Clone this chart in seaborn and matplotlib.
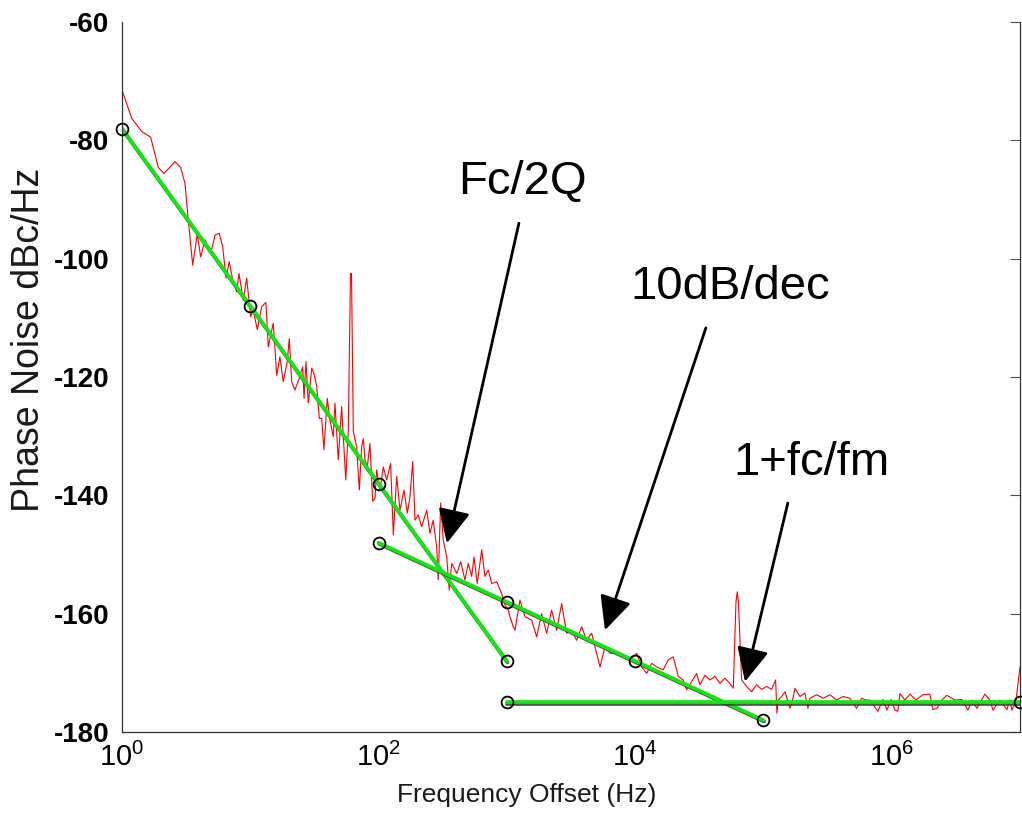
import numpy as np
import pandas as pd
import matplotlib
matplotlib.use("Agg")
import matplotlib.pyplot as plt
import matplotlib.patheffects as pe
from matplotlib.ticker import LogLocator, NullFormatter
import seaborn as sns

# Measured phase noise trace (log10 of offset frequency, dBc/Hz)
trace_log_f = [
    0.000, 0.076, 0.154, 0.224, 0.283, 0.327, 0.413, 0.458, 0.491, 0.517,
    0.551, 0.587, 0.613, 0.647, 0.670, 0.699, 0.725, 0.758, 0.785, 0.811,
    0.836, 0.863, 0.894, 0.912, 0.945, 0.972, 1.003, 1.023, 1.055, 1.089,
    1.122, 1.140, 1.179, 1.206, 1.231, 1.257, 1.288, 1.304, 1.323, 1.348,
    1.382, 1.408, 1.419, 1.434, 1.452, 1.479, 1.496, 1.518, 1.538, 1.557,
    1.574, 1.600, 1.621, 1.647, 1.660, 1.686, 1.712, 1.744, 1.764, 1.781,
    1.789, 1.803, 1.829, 1.850, 1.868, 1.881, 1.894, 1.912, 1.933, 1.954,
    1.972, 1.985, 2.011, 2.037, 2.063, 2.094, 2.115, 2.141, 2.167, 2.198,
    2.224, 2.245, 2.266, 2.284, 2.309, 2.336, 2.375, 2.401, 2.426, 2.453,
    2.465, 2.484, 2.504, 2.531, 2.551, 2.570, 2.609, 2.640, 2.673, 2.699,
    2.726, 2.744, 2.769, 2.804, 2.829, 2.855, 2.882, 2.921, 2.959, 2.985,
    3.011, 3.024, 3.050, 3.063, 3.102, 3.141, 3.193, 3.232, 3.271, 3.310,
    3.349, 3.388, 3.427, 3.466, 3.505, 3.544, 3.583, 3.622, 3.661, 3.700,
    3.726, 3.765, 3.804, 3.856, 3.907, 3.959, 4.012, 4.051, 4.090, 4.129,
    4.168, 4.219, 4.258, 4.297, 4.336, 4.375, 4.401, 4.440, 4.479, 4.505,
    4.544, 4.583, 4.622, 4.661, 4.700, 4.739, 4.765, 4.786, 4.796, 4.805,
    4.811, 4.830, 4.869, 4.908, 4.947, 4.986, 5.025, 5.064, 5.095, 5.105,
    5.115, 5.142, 5.168, 5.207, 5.230, 5.246, 5.285, 5.323, 5.347, 5.362,
    5.415, 5.466, 5.518, 5.570, 5.622, 5.674, 5.726, 5.765, 5.799, 5.830,
    5.892, 5.931, 5.963, 5.994, 6.025, 6.048, 6.064, 6.103, 6.142, 6.189,
    6.243, 6.298, 6.321, 6.352, 6.391, 6.430, 6.493, 6.547, 6.594, 6.625,
    6.664, 6.726, 6.765, 6.789, 6.843, 6.898, 6.921, 6.937, 6.968, 7.000,
]
trace_db = [
    -71.5, -76.3, -78.5, -79.5, -84.6, -85.6, -83.6, -84.6, -87.3, -93.5,
    -101.1, -95.8, -99.7, -96.8, -98.0, -98.5, -96.0, -95.7, -98.0, -103.3,
    -100.5, -103.6, -105.6, -102.5, -107.0, -103.3, -109.8, -108.7, -112.0, -108.1,
    -107.4, -114.9, -110.9, -119.7, -116.6, -120.8, -117.4, -113.5, -120.8, -122.2,
    -120.2, -118.3, -123.6, -117.4, -124.4, -118.5, -119.4, -121.6, -127.0, -127.0,
    -132.3, -123.6, -127.3, -130.1, -124.4, -134.0, -125.0, -137.4, -129.0, -102.5,
    -102.5, -129.2, -131.8, -139.1, -131.8, -130.4, -134.0, -135.2, -131.2, -141.0,
    -140.5, -135.7, -139.1, -135.2, -137.4, -134.6, -146.7, -136.8, -142.5, -139.1,
    -143.0, -140.2, -134.3, -144.2, -143.3, -145.3, -142.5, -146.4, -144.2, -148.7,
    -154.3, -141.3, -147.5, -150.4, -156.0, -151.5, -153.2, -151.2, -154.3, -151.5,
    -153.7, -150.4, -154.9, -149.2, -153.7, -152.6, -154.9, -154.6, -156.6, -158.5,
    -159.4, -160.5, -162.2, -162.8, -157.7, -160.5, -161.1, -163.9, -160.0, -163.3,
    -159.4, -162.8, -158.3, -163.3, -162.8, -164.5, -162.2, -164.5, -163.3, -166.7,
    -169.0, -165.6, -166.7, -166.7, -167.3, -167.8, -166.7, -169.0, -170.1, -168.4,
    -169.0, -169.5, -167.8, -167.3, -170.6, -171.2, -172.9, -171.5, -170.1, -172.0,
    -170.4, -171.2, -170.6, -171.8, -170.9, -171.8, -172.6, -158.0, -156.3, -158.0,
    -161.1, -171.2, -172.3, -173.2, -172.0, -172.8, -172.3, -172.8, -171.2, -176.8,
    -174.6, -174.0, -173.2, -176.0, -174.3, -172.6, -174.0, -173.4, -176.0, -174.3,
    -173.7, -174.3, -173.7, -174.6, -174.0, -174.3, -176.0, -174.3, -174.6, -174.6,
    -176.5, -174.5, -176.3, -174.5, -176.3, -176.5, -173.5, -174.6, -173.6, -174.6,
    -173.7, -173.6, -176.2, -176.0, -174.6, -173.8, -174.6, -174.5, -176.3, -174.6,
    -176.0, -173.6, -174.6, -176.3, -174.6, -176.2, -174.6, -176.3, -174.8, -169.0,
]

# Asymptote segments (Leeson model pieces)
slope30_f = [1, 10, 100, 1000]
slope30_db = [-78, -108, -138, -168]
slope10_f = [100, 1000, 1e4, 1e5]
slope10_db = [-148, -158, -168, -178]
floor_f = [1000, 1e7]
floor_db = [-175, -175]

# Annotation labels: (text, text pos, arrow tail, arrow tip)
notes = [
    ("Fc/2Q", (1334, -87.0), (1242, -94.0), (341, -148.1)),
    ("10dB/dec", (5.48e4, -104.8), (3.56e4, -111.7), (5820, -162.8)),
    ("1+fc/fm", (2.39e5, -134.5), (1.55e5, -141.3), (7.18e4, -171.5)),
]

sns.set_theme(style="white")
plt.rcParams["font.family"] = ["Liberation Sans", "DejaVu Sans"]
plt.rcParams["mathtext.fontset"] = "custom"
plt.rcParams["mathtext.rm"] = "Liberation Sans"
plt.rcParams["mathtext.it"] = "Liberation Sans"
plt.rcParams["axes.unicode_minus"] = False

trace = pd.DataFrame({"freq": 10 ** np.array(trace_log_f), "db": trace_db})

fig = plt.figure(figsize=(10.22, 8.25), dpi=100)
ax = fig.add_axes([122 / 1022, 93 / 825, 898 / 1022, 710 / 825])

sns.lineplot(data=trace, x="freq", y="db", color="red", lw=0.8,
             estimator=None, sort=False, ax=ax)

green = "#14e614"
shadow = [pe.SimpleLineShadow(offset=(0.4, -0.9), shadow_color="0.25", alpha=0.9), pe.Normal()]
for fx, fy in [(slope30_f, slope30_db), (slope10_f, slope10_db), (floor_f, floor_db)]:
    sns.lineplot(x=fx, y=fy, color=green, lw=2.7, estimator=None, sort=False,
                 ax=ax, path_effects=shadow)
    ax.plot(fx, fy, ls="none", marker="o", ms=8.5, mfc="none", mec="black",
            mew=1.3, clip_on=False, zorder=5)

for text, pos, tail, tip in notes:
    ax.text(pos[0], pos[1], text, fontsize=34, ha="center", va="center", color="black")
    ax.annotate("", xy=tip, xytext=tail,
                arrowprops=dict(arrowstyle="-|>,head_length=0.8,head_width=0.38",
                                mutation_scale=26, lw=2.0, color="black",
                                shrinkA=0, shrinkB=0))

ax.set_xscale("log")
ax.set_xlim(1, 1e7)
ax.set_ylim(-180, -60)
ax.set_xticks([1, 1e2, 1e4, 1e6])
ax.xaxis.set_minor_locator(LogLocator(base=10, subs=np.arange(1, 10), numticks=60))
ax.xaxis.set_minor_formatter(NullFormatter())
ax.set_yticks(np.arange(-180, -59, 20))

ax.tick_params(axis="both", which="both", direction="in", color="0.3")
ax.tick_params(axis="y", which="major", length=7, width=0.8, labelsize=20, pad=9,
               right=True, labelcolor="black")
ax.tick_params(axis="x", which="major", length=7, width=0.8, labelsize=21, pad=8,
               labelcolor="black")
ax.tick_params(axis="x", which="minor", length=4, width=0.6)
for lab in ax.get_yticklabels():
    lab.set_fontweight("bold")

ax.spines["top"].set_visible(False)
for side in ["left", "bottom", "right"]:
    ax.spines[side].set_color("0.2")
    ax.spines[side].set_linewidth(0.9)

ax.set_xlabel("Frequency Offset (Hz)", fontsize=19, color="#1a1a1a")
ax.set_ylabel("Phase Noise dBc/Hz", fontsize=27, color="#1a1a1a")
ax.xaxis.set_label_coords(0.451, -0.072)
ax.yaxis.set_label_coords(-0.083, 0.552)

fig.savefig("out.png", dpi=100)
